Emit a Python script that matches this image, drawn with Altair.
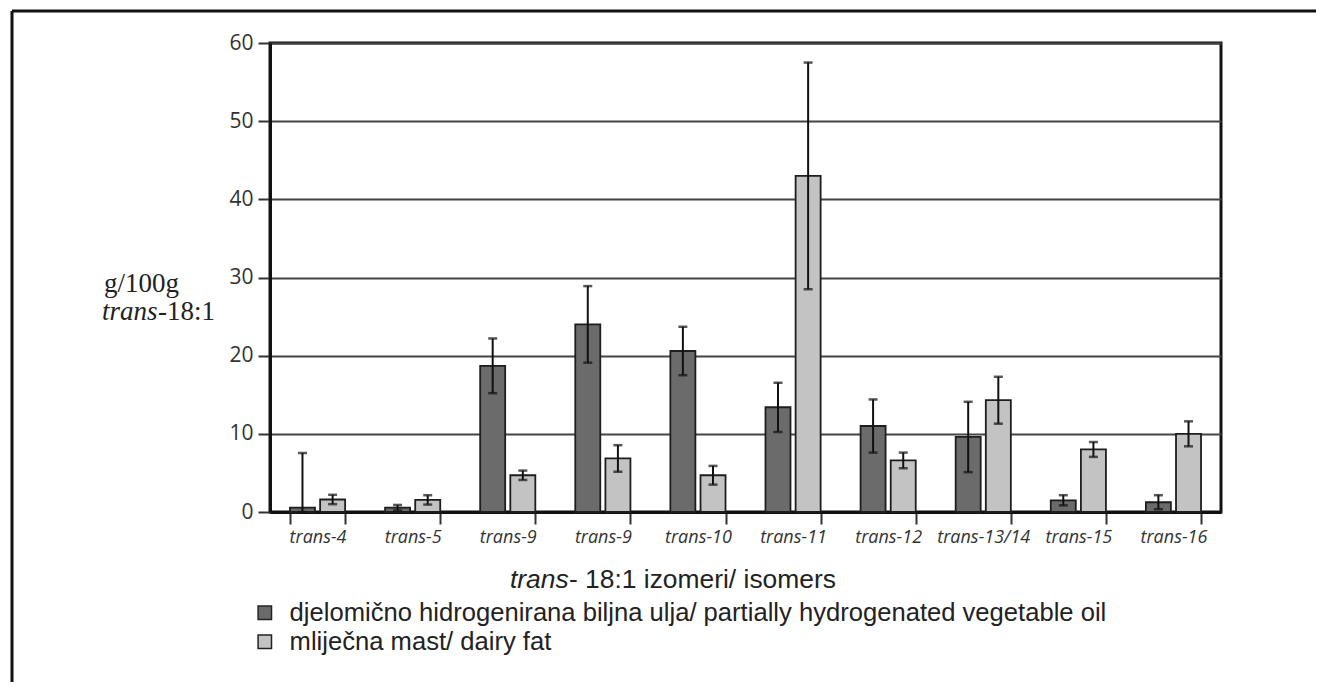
import altair as alt
import pandas as pd

isomers = ["trans-4", "trans-5", "trans-9", "trans-9", "trans-10", "trans-11",
           "trans-12", "trans-13/14", "trans-15", "trans-16"]
series = ["djelomično hidrogenirana biljna ulja/ partially hydrogenated vegetable oil",
          "mliječna mast/ dairy fat"]
pho_mean = [0.55, 0.55, 18.7, 24.0, 20.6, 13.4, 11.0, 9.6, 1.5, 1.25]
pho_sd = [7.0, 0.35, 3.5, 4.9, 3.1, 3.15, 3.4, 4.5, 0.65, 0.9]
dairy_mean = [1.6, 1.55, 4.7, 6.85, 4.7, 43.0, 6.6, 14.3, 8.0, 10.0]
dairy_sd = [0.6, 0.6, 0.6, 1.7, 1.2, 14.5, 1.0, 3.0, 0.95, 1.6]
y_ticks = [0, 10, 20, 30, 40, 50, 60]
colors = ["#6b6b6b", "#c3c3c3"]

rows = []
for i, name in enumerate(isomers):
    for s, means, sds in ((series[0], pho_mean, pho_sd), (series[1], dairy_mean, dairy_sd)):
        m, sd = means[i], sds[i]
        rows.append({"idx": i, "isomer": name, "series": s, "mean": m,
                     "lo": max(0.0, m - sd), "hi": m + sd})
df = pd.DataFrame(rows)

label_expr = "[" + ",".join("'" + s + "'" for s in isomers) + "][datum.value]"

xscale = alt.Scale(paddingInner=0.42, paddingOuter=0.21)
xaxis = alt.Axis(labelExpr=label_expr, tickBand="extent", labelAngle=0,
                 labelFont="Open Sans", labelFontStyle="italic", labelFontSize=18,
                 labelColor="#333", labelPadding=4, tickSize=12, tickWidth=2,
                 tickColor="#333", domainColor="#111", domainWidth=3, grid=False)
yscale = alt.Scale(domain=[0, 60], nice=False)
yaxis = alt.Axis(values=y_ticks, labelFont="Open Sans", labelFontSize=21,
                 labelColor="#333", labelPadding=5, tickSize=12, tickWidth=2,
                 tickColor="#333", domainColor="#111", domainWidth=3,
                 grid=True, gridColor="#444444", gridWidth=2)
offscale = alt.Scale(domain=series, paddingInner=0.17, paddingOuter=0)

X = alt.X("idx:O", scale=xscale, axis=xaxis, title=None)
XO = alt.XOffset("series:N", scale=offscale)

base = alt.Chart(df)

bars = base.mark_bar(stroke="#1e1e1e", strokeWidth=1.8).encode(
    x=X, xOffset=XO,
    y=alt.Y("mean:Q", scale=yscale, axis=yaxis, title=None),
    color=alt.Color("series:N", scale=alt.Scale(domain=series, range=colors),
                    legend=alt.Legend(orient="none", legendX=-18, legendY=557, title=None,
                                      symbolType="square", symbolSize=180,
                                      symbolStrokeColor="#222", symbolStrokeWidth=1.5,
                                      labelFont="Liberation Sans", labelFontSize=25.6,
                                      labelColor="#222", labelOffset=12, rowPadding=2,
                                      direction="vertical", labelLimit=1000)),
)
rules = base.mark_rule(color="#111", strokeWidth=2).encode(
    x=X, xOffset=XO,
    y=alt.Y("lo:Q", scale=yscale, axis=yaxis, title=None), y2="hi:Q")
caps_hi = base.mark_tick(color="#111", thickness=2.5, size=9).encode(
    x=X, xOffset=XO, y=alt.Y("hi:Q", scale=yscale, axis=yaxis, title=None))
caps_lo = base.mark_tick(color="#111", thickness=2.5, size=9).encode(
    x=X, xOffset=XO, y=alt.Y("lo:Q", scale=yscale, axis=yaxis, title=None))

one = alt.Chart(pd.DataFrame({"k": [0]}))
frame_top = one.mark_rule(color="#111", strokeWidth=3).encode(
    x=alt.value(-258), x2=alt.value(1046), y=alt.value(-32))
frame_left = one.mark_rule(color="#111", strokeWidth=3).encode(
    x=alt.value(-258), y=alt.value(-32), y2=alt.value(640))

serif = "Liberation Serif"
yt1 = one.mark_text(text="g/100g", font=serif, fontSize=27, color="#222",
                    align="left", baseline="alphabetic").encode(x=alt.value(-166), y=alt.value(249))
yt2 = one.mark_text(text="trans", font=serif, fontSize=27, fontStyle="italic", color="#222",
                    align="left", baseline="alphabetic").encode(x=alt.value(-168), y=alt.value(277))
yt3 = one.mark_text(text="-18:1", font=serif, fontSize=27, color="#222",
                    align="left", baseline="alphabetic").encode(x=alt.value(-112), y=alt.value(277))

xt1 = one.mark_text(text="trans", font="Liberation Sans", fontSize=26.4, fontStyle="italic",
                    color="#222", align="left", baseline="alphabetic").encode(
    x=alt.value(240), y=alt.value(545))
xt2 = one.mark_text(text="- 18:1 izomeri/ isomers", font="Liberation Sans", fontSize=26.4,
                    color="#222", align="left", baseline="alphabetic").encode(
    x=alt.value(299), y=alt.value(545))

chart = alt.layer(bars, rules, caps_hi, caps_lo, frame_top, frame_left,
                  yt1, yt2, yt3, xt1, xt2).properties(
    width=951, height=469,
    autosize=alt.AutoSizeParams(type="none"),
    padding={"left": 262, "top": 35, "right": 95, "bottom": 170},
).configure(background="white").configure_view(stroke="#111", strokeWidth=3)

chart.save("out.html", embed_options={"renderer": "svg", "actions": False})
